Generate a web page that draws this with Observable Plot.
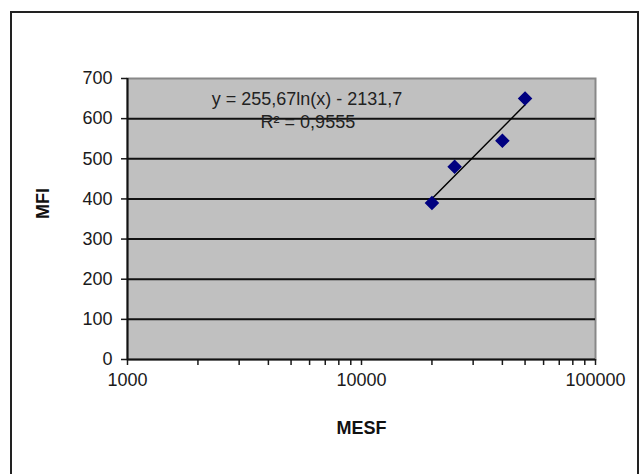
<!DOCTYPE html>
<html>
<head>
<meta charset="utf-8">
<script src="https://cdn.jsdelivr.net/npm/d3@7"></script>
<script src="https://cdn.jsdelivr.net/npm/@observablehq/plot@0.6"></script>
<style>
  html, body { margin: 0; padding: 0; background: #fff; overflow: hidden; }
  #wrap { position: relative; width: 641px; height: 474px; }
  #border { position: absolute; left: 10px; top: 11px; width: 629px; height: 480px; border: 2px solid #222; box-sizing: border-box; }
  #chart { position: absolute; left: 0; top: 0; }
</style>
</head>
<body>
<div id="wrap"><div id="border"></div><div id="chart"></div></div>
<script>
// Data
const mesf = [20000, 25000, 40000, 50000];
const mfi = [390, 480, 545, 650];

// Trendline from the chart's equation: y = 255,67 ln(x) - 2131,7
const trendA = 255.67;
const trendB = -2131.7;

// Tick values
const yTicks = [0, 100, 200, 300, 400, 500, 600, 700];
const gridValues = [100, 200, 300, 400, 500, 600];
const xMajor = [1000, 10000, 100000];
const xTicks = [1000, 2000, 3000, 4000, 5000, 6000, 7000, 8000, 9000,
  10000, 20000, 30000, 40000, 50000, 60000, 70000, 80000, 90000, 100000];

// Annotation text and its position (data units)
const eqText = ["y = 255,67ln(x) - 2131,7", "R² = 0,9555"];
const eqX = [5850, 5900];
const eqY = [648, 591];

const points = mesf.map((x, i) => ({x, y: mfi[i]}));
const trend = d3.extent(mesf).map(x => ({x, y: trendA * Math.log(x) + trendB}));
const eq = eqText.map((t, i) => ({t, x: eqX[i], y: eqY[i]}));

const chart = Plot.plot({
  width: 641,
  height: 474,
  marginLeft: 127,
  marginRight: 46,
  marginTop: 78,
  marginBottom: 115,
  style: {fontFamily: "'Liberation Sans', Arial, sans-serif", fontSize: "18px", background: "transparent", color: "#1a1a1a"},
  x: {type: "log", domain: [1000, 100000]},
  y: {domain: [0, 700]},
  marks: [
    Plot.frame({fill: "#c0c0c0", stroke: "#888", strokeWidth: 2}),
    Plot.ruleY(gridValues, {stroke: "#111", strokeWidth: 2}),
    Plot.axisY({ticks: yTicks, tickSize: 6, tickPadding: 9, label: null, tickFormat: d => String(d), strokeWidth: 1.5}),
    Plot.axisX({ticks: xTicks, tickSize: 6, tickPadding: 8, label: null, strokeWidth: 1.5,
      tickFormat: d => xMajor.includes(d) ? String(d) : ""}),
    Plot.ruleX([1000], {stroke: "#111", strokeWidth: 2}),
    Plot.ruleY([0], {stroke: "#111", strokeWidth: 2}),
    Plot.line(trend, {x: "x", y: "y", stroke: "#000", strokeWidth: 1.5}),
    Plot.dot(points, {x: "x", y: "y", symbol: "diamond2", r: 5.6, fill: "#000080", stroke: "#000080"}),
    Plot.text(eq, {x: "x", y: "y", text: "t", fill: "#222", fontSize: 18}),
    Plot.text(["MFI"], {frameAnchor: "left", dx: -84, rotate: -90, fontWeight: "bold", fontSize: 18, fill: "#111"}),
    Plot.text(["MESF"], {frameAnchor: "bottom", dy: 74, fontWeight: "bold", fontSize: 18, fill: "#111"})
  ]
});
document.getElementById("chart").append(chart);
</script>
</body>
</html>
